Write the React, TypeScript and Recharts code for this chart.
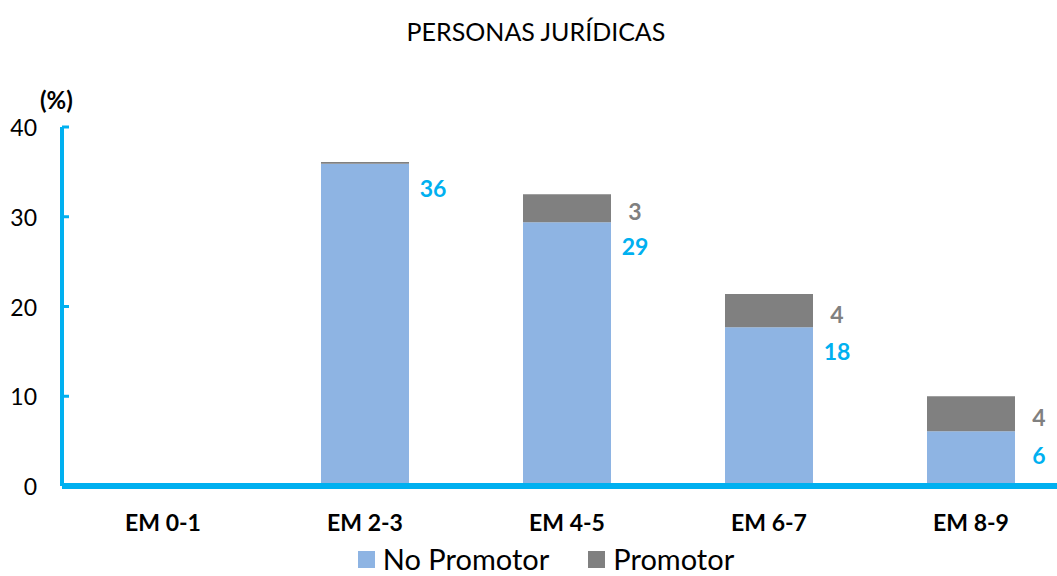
import { BarChart, Bar, XAxis, YAxis, Legend, LabelList } from "recharts"

const categories = ["EM 0-1", "EM 2-3", "EM 4-5", "EM 6-7", "EM 8-9"]
const noPromotor = [0, 35.9, 29.4, 17.7, 6.1]
const promotor = [0, 0.2, 3.1, 3.7, 3.9]
const noPromotorLabels = ["", "36", "29", "18", "6"]
const promotorLabels = ["", "", "3", "4", "4"]
const yTicks = [0, 10, 20, 30, 40]

const BLUE = "#00B0F0"
const LIGHT = "#8EB4E3"
const GREY = "#808080"
const FONT = "Lato, 'Open Sans', sans-serif"

const data = categories.map((cat, i) => ({
  cat,
  noPromotor: noPromotor[i],
  promotor: promotor[i],
  npLabel: noPromotorLabels[i],
  pLabel: promotorLabels[i],
}))

function YTick(props: any) {
  const { x, y, payload } = props
  return (
    <g>
      {payload.value > 0 && <line x1={x} x2={x + 7} y1={y} y2={y} stroke={BLUE} strokeWidth={3} />}
      <text x={x - 25} y={y} textAnchor="end" dominantBaseline="central" fontSize={23} fontFamily={FONT} fill="#000">
        {payload.value}
      </text>
    </g>
  )
}

function XTick(props: any) {
  const { x, y, payload } = props
  return (
    <text x={x} y={y + 36} textAnchor="middle" dominantBaseline="central" fontSize={23} fontWeight="bold" fontFamily={FONT} fill="#000">
      {payload.value}
    </text>
  )
}

function makeLabel(color: string, mode: "top" | "mid") {
  return (props: any) => {
    const { x, y, width, height, value } = props
    if (!value) return null
    const ly = mode === "top" ? y + 24 : y + height / 2 + 3
    return (
      <text x={x + width + 24} y={ly} textAnchor="middle" dominantBaseline="central" fontSize={23} fontWeight="bold" fontFamily={FONT} fill={color}>
        {value}
      </text>
    )
  }
}

function LegendContent() {
  const items = [
    { name: "No Promotor", color: LIGHT },
    { name: "Promotor", color: GREY },
  ]
  return (
    <div style={{ display: "flex", justifyContent: "center", alignItems: "center", gap: 39, height: 50, paddingLeft: 20, paddingTop: 17, paddingBottom: 1, boxSizing: "border-box" }}>
      {items.map((it) => (
        <div key={it.name} style={{ display: "flex", alignItems: "center", gap: 8 }}>
          <span style={{ width: 17, height: 17, background: it.color, display: "inline-block" }} />
          <span style={{ fontSize: 29, lineHeight: "32px", fontFamily: FONT, color: "#000" }}>{it.name}</span>
        </div>
      ))}
    </div>
  )
}

export default function App() {
  return (
    <div style={{ position: "absolute", left: 0, top: 0, width: 1057, height: 576, overflow: "hidden", background: "#fff" }}>
      <div style={{ position: "absolute", top: 15, left: 0, width: 1072, textAlign: "center", fontSize: 25, lineHeight: "32px", fontFamily: FONT, color: "#000" }}>
        PERSONAS JURÍDICAS
      </div>
      <div style={{ position: "absolute", top: 85, left: 40, fontSize: 24, lineHeight: "30px", fontWeight: "bold", fontFamily: FONT, color: "#000" }}>
        (%)
      </div>
      <BarChart width={1072} height={576} data={data} margin={{ top: 127, right: 0, left: 0, bottom: 0 }} barSize={88}>
        <YAxis
          domain={[0, 40]}
          ticks={yTicks}
          width={62}
          interval={0}
          tickSize={0}
          tickMargin={0}
          tickLine={false}
          axisLine={{ stroke: BLUE, strokeWidth: 4 }}
          tick={<YTick />}
        />
        <XAxis
          dataKey="cat"
          height={40}
          tickSize={0}
          tickMargin={0}
          tickLine={false}
          axisLine={{ stroke: BLUE, strokeWidth: 6 }}
          tick={<XTick />}
        />
        <Legend verticalAlign="bottom" height={50} content={<LegendContent />} />
        <Bar dataKey="noPromotor" name="No Promotor" stackId="a" fill={LIGHT} isAnimationActive={false}>
          <LabelList dataKey="npLabel" content={makeLabel(BLUE, "top")} />
        </Bar>
        <Bar dataKey="promotor" name="Promotor" stackId="a" fill={GREY} isAnimationActive={false}>
          <LabelList dataKey="pLabel" content={makeLabel(GREY, "mid")} />
        </Bar>
      </BarChart>
    </div>
  )
}
